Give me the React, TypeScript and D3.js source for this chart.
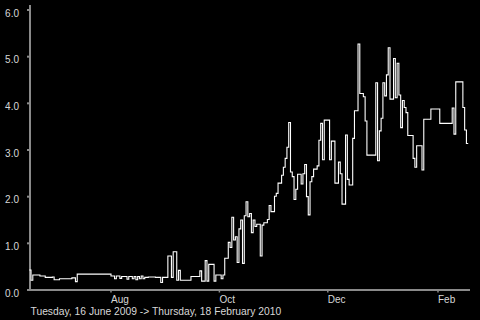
import React from 'react';
import * as d3 from 'd3';

const startDate = new Date(2009, 5, 16);
const endDate = new Date(2010, 1, 18);

const dayOffsets = [
  0, 1, 2, 6, 9, 13, 14, 17, 24, 26, 27,
  46, 48, 49, 51, 52, 55, 56, 58, 59, 60, 61, 62, 63, 64, 65, 67, 71, 74, 75,
  78, 80, 81, 83, 84, 85, 91, 96, 97, 99, 100, 101, 104, 105, 108, 109, 110,
  112, 113, 114, 115, 116, 117, 118, 119, 120, 121, 122, 123, 124, 125, 126,
  127, 128, 130, 131, 132, 134, 135, 136, 138, 139, 140, 142, 143, 144, 145,
  146, 147, 148, 149, 150, 151, 153, 154, 155, 156, 157, 158, 159, 160, 162,
  163, 164, 165, 166, 169, 170, 172, 174, 175, 176, 178, 179, 180, 182, 183,
  185, 186, 188, 189, 190, 195, 196, 197, 198, 199, 200, 201, 202, 203, 205,
  206, 207, 208, 209, 210, 211, 212, 213, 216, 217, 218, 221, 222, 226, 231,
  238, 239, 240, 244, 245, 246, 247,
];

const rates = [
  0.43, 0.21, 0.32, 0.30, 0.27, 0.28, 0.22, 0.24, 0.26, 0.18, 0.34,
  0.30, 0.24, 0.30, 0.25, 0.29, 0.23, 0.29, 0.24, 0.29, 0.22, 0.29, 0.24, 0.30, 0.24, 0.27, 0.28, 0.27, 0.16, 0.27,
  0.73, 0.27, 0.82, 0.21, 0.42, 0.21, 0.29, 0.41, 0.19, 0.63, 0.19, 0.55, 0.19, 0.32, 0.24, 0.32, 0.68,
  1.02, 0.91, 1.56, 1.07, 1.14, 0.59, 1.31, 1.50, 0.57, 1.59, 1.89, 1.57, 1.64, 1.23, 1.50,
  1.36, 1.41, 0.73, 1.39, 1.44, 1.51, 1.81, 1.68, 2.01, 2.07, 2.29, 2.46, 2.63, 2.82, 3.06,
  3.59, 2.53, 2.43, 1.94, 2.16, 2.48, 2.27, 2.49, 2.69, 2.00, 1.61, 2.32, 2.43, 2.59, 2.66,
  3.21, 3.57, 2.79, 3.64, 2.79, 3.19, 2.29, 2.74, 2.49, 1.84, 3.32, 2.37, 2.25, 3.25, 3.84,
  5.27, 4.21, 4.14, 3.62, 2.89, 4.44, 2.77, 3.41, 3.68, 4.44, 4.16, 4.61, 5.19, 4.09, 4.96,
  4.12, 4.86, 4.18, 3.48, 4.06, 3.91, 3.80, 3.31, 2.82, 2.63, 3.09, 2.57, 3.66, 3.88, 3.57,
  3.90, 3.34, 4.46, 3.91, 3.43, 3.14, 3.14,
];

const yTicks = [0, 1, 2, 3, 4, 5, 6];
const monthTicks = [
  new Date(2009, 7, 1),
  new Date(2009, 9, 1),
  new Date(2009, 11, 1),
  new Date(2010, 1, 1),
];
const caption = 'Tuesday, 16 June 2009 -> Thursday, 18 February 2010';

export default function App() {
  const W = 480;
  const H = 320;
  const x = d3.scaleTime().domain([startDate, endDate]).range([29.25, 468.2]);
  const y = d3.scaleLinear().domain([0, 6]).range([290, 10]);
  const pts: [Date, number][] = dayOffsets.map((d, i) => [d3.timeDay.offset(startDate, d), rates[i]]);
  const line = d3
    .line<[Date, number]>()
    .x((p) => x(p[0]))
    .y((p) => y(p[1]))
    .curve(d3.curveStepAfter);
  const fmtY = d3.format('.1f');
  const fmtM = d3.timeFormat('%b');
  const font = '"Liberation Sans", Arial, sans-serif';
  const axisColor = '#8a8a8a';
  const textColor = '#d8d8d8';

  return (
    <svg
      width={W}
      height={H}
      style={{ position: 'absolute', left: 0, top: 0, background: '#000' }}
      fontFamily={font}
    >
      <rect x={0} y={0} width={W} height={H} fill="#000" />
      <line x1={30} x2={30} y1={5} y2={290} stroke={axisColor} strokeWidth={2} />
      <line x1={29} x2={470} y1={290} y2={290} stroke={axisColor} strokeWidth={2} />
      {yTicks.map((t) => (
        <g key={t}>
          <line x1={27} x2={30} y1={y(t)} y2={y(t)} stroke={axisColor} strokeWidth={2} />
          <text x={19} y={y(t) + 6.5} textAnchor="end" fontSize={10} fill={textColor}>
            {fmtY(t)}
          </text>
        </g>
      ))}
      {monthTicks.map((m) => (
        <g key={m.getTime()}>
          <line x1={x(m)} x2={x(m)} y1={290} y2={292.5} stroke={axisColor} strokeWidth={1.5} />
          <text x={x(m)} y={302.7} fontSize={10} fill={textColor}>
            {fmtM(m)}
          </text>
        </g>
      ))}
      <path d={line(pts) || ''} fill="none" stroke="#fff" strokeWidth={1.1} />
      <text x={30.5} y={314.5} fontSize={10.3} fill={textColor}>
        {caption}
      </text>
    </svg>
  );
}
